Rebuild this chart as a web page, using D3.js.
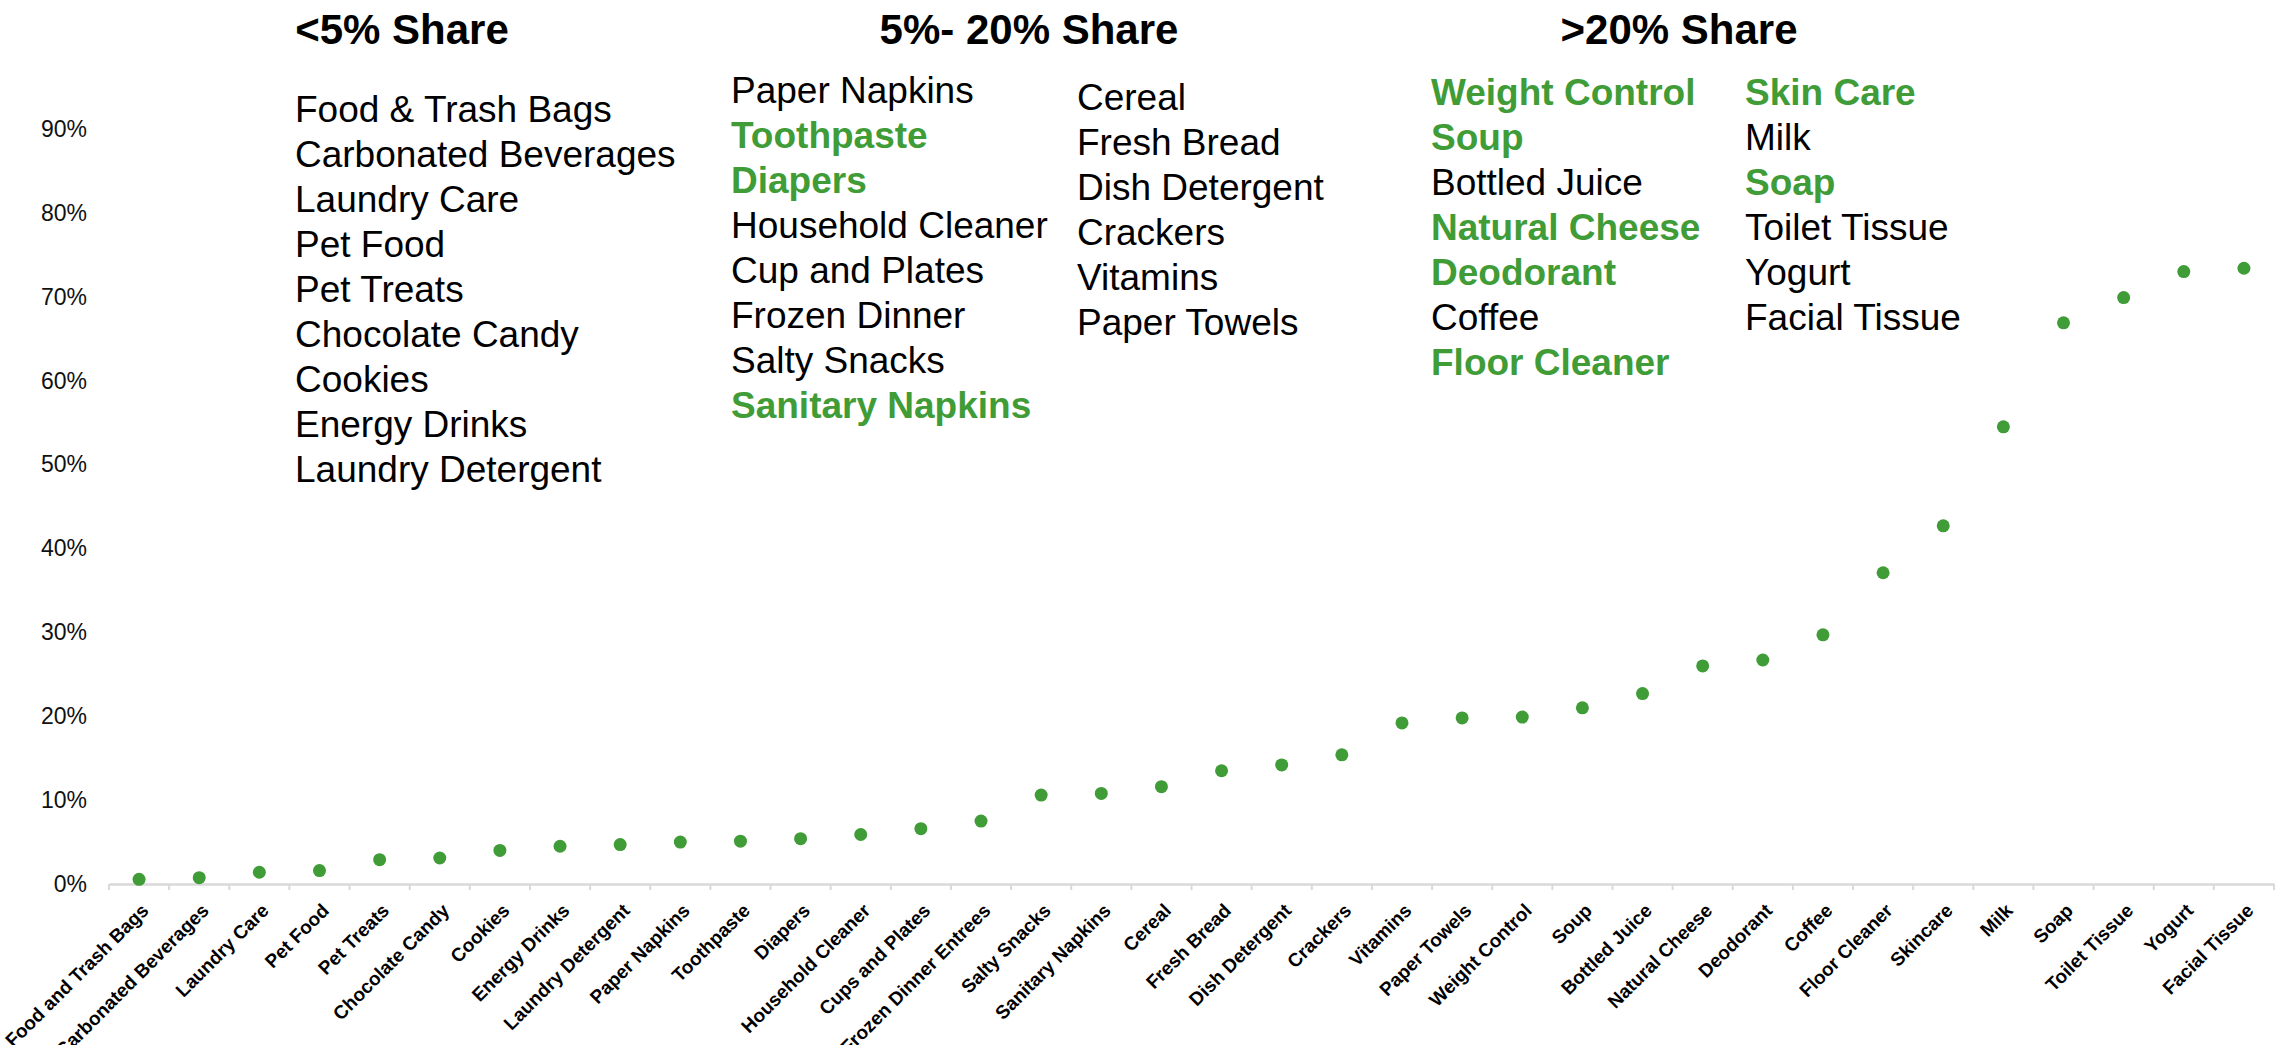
<!DOCTYPE html>
<html>
<head>
<meta charset="utf-8">
<script src="https://cdn.jsdelivr.net/npm/d3@7"></script>
<style>
  body { margin: 0; background: #fff; }
  svg { display: block; font-family: "Liberation Sans", Arial, sans-serif; }
</style>
</head>
<body>
<div id="chart"></div>
<script>
const categories = [
  'Food and Trash Bags', 'Carbonated Beverages', 'Laundry Care', 'Pet Food', 'Pet Treats',
  'Chocolate Candy', 'Cookies', 'Energy Drinks', 'Laundry Detergent', 'Paper Napkins',
  'Toothpaste', 'Diapers', 'Household Cleaner', 'Cups and Plates', 'Frozen Dinner Entrees',
  'Salty Snacks', 'Sanitary Napkins', 'Cereal', 'Fresh Bread', 'Dish Detergent',
  'Crackers', 'Vitamins', 'Paper Towels', 'Weight Control', 'Soup',
  'Bottled Juice', 'Natural Cheese', 'Deodorant', 'Coffee', 'Floor Cleaner',
  'Skincare', 'Milk', 'Soap', 'Toilet Tissue', 'Yogurt', 'Facial Tissue'
];

// share values (fraction)
const shares = [
  0.0056, 0.0075, 0.014, 0.016, 0.029,
  0.031, 0.040, 0.045, 0.047, 0.050,
  0.051, 0.054, 0.059, 0.066, 0.075,
  0.106, 0.108, 0.116, 0.135, 0.142,
  0.154, 0.192, 0.198, 0.199, 0.210,
  0.227, 0.260, 0.267, 0.297, 0.371,
  0.427, 0.545, 0.669, 0.699, 0.730, 0.734
];

const yTicks = [0, 0.1, 0.2, 0.3, 0.4, 0.5, 0.6, 0.7, 0.8, 0.9];

const groupTitles = ['<5% Share', '5%- 20% Share', '>20% Share'];

const lowShareList = ['Food & Trash Bags', 'Carbonated Beverages', 'Laundry Care', 'Pet Food',
  'Pet Treats', 'Chocolate Candy', 'Cookies', 'Energy Drinks', 'Laundry Detergent'];
const midShareListA = ['Paper Napkins', 'Toothpaste', 'Diapers', 'Household Cleaner',
  'Cup and Plates', 'Frozen Dinner', 'Salty Snacks', 'Sanitary Napkins'];
const midShareListB = ['Cereal', 'Fresh Bread', 'Dish Detergent', 'Crackers', 'Vitamins', 'Paper Towels'];
const highShareListA = ['Weight Control', 'Soup', 'Bottled Juice', 'Natural Cheese',
  'Deodorant', 'Coffee', 'Floor Cleaner'];
const highShareListB = ['Skin Care', 'Milk', 'Soap', 'Toilet Tissue', 'Yogurt', 'Facial Tissue'];

// names shown in green bold
const highlighted = ['Toothpaste', 'Diapers', 'Sanitary Napkins', 'Weight Control', 'Soup',
  'Natural Cheese', 'Deodorant', 'Floor Cleaner', 'Skin Care', 'Soap'];

const width = 2280;
const height = 1045;
const green = '#3f9c37';
const axisY = 884;

const svg = d3.select('#chart')
  .append('svg')
  .attr('width', width)
  .attr('height', height);

svg.append('rect').attr('width', width).attr('height', height).attr('fill', '#fff');

const xScale = d3.scaleBand()
  .domain(categories)
  .range([109, 2274])
  .padding(0);

const yScale = d3.scaleLinear()
  .domain([0, 0.9])
  .range([axisY, 129]);

// y axis (labels only)
const yAxis = svg.append('g')
  .attr('transform', 'translate(87,0)')
  .call(d3.axisLeft(yScale).tickValues(yTicks).tickFormat(d3.format('.0%')).tickSize(0).tickPadding(0));
yAxis.select('.domain').remove();
yAxis.selectAll('text')
  .attr('font-size', 23)
  .attr('font-family', '"Liberation Sans", Arial, sans-serif')
  .attr('fill', '#111');

// x axis
const xAxis = svg.append('g')
  .attr('transform', 'translate(0,' + axisY + ')')
  .call(d3.axisBottom(xScale).tickSize(0).tickSizeOuter(0));
xAxis.select('.domain')
  .attr('stroke', '#d9d9d9')
  .attr('stroke-width', 2.5);
xAxis.selectAll('text')
  .attr('y', 0)
  .attr('dy', '0.35em')
  .attr('transform', 'translate(6,23) rotate(-45)')
  .style('text-anchor', 'end')
  .attr('font-size', 19)
  .attr('font-weight', 'bold')
  .attr('font-family', '"Liberation Sans", Arial, sans-serif')
  .attr('fill', '#000');

// tick marks between categories
const boundaries = d3.range(categories.length + 1);
svg.append('g')
  .selectAll('line')
  .data(boundaries)
  .enter().append('line')
    .attr('x1', i => xScale.range()[0] + i * xScale.step())
    .attr('x2', i => xScale.range()[0] + i * xScale.step())
    .attr('y1', axisY)
    .attr('y2', axisY + 6)
    .attr('stroke', '#d9d9d9')
    .attr('stroke-width', 2);

// dots
svg.selectAll('.dot')
  .data(categories)
  .enter().append('circle')
    .attr('class', 'dot')
    .attr('cx', d => xScale(d) + xScale.bandwidth() / 2)
    .attr('cy', (d, i) => yScale(shares[i]))
    .attr('r', 6.5)
    .attr('fill', green);

// group titles
const titleX = [402, 1029, 1679];
svg.selectAll('.group-title')
  .data(groupTitles)
  .enter().append('text')
    .attr('class', 'group-title')
    .attr('x', (d, i) => titleX[i])
    .attr('y', 44)
    .attr('text-anchor', 'middle')
    .attr('font-size', 42)
    .attr('font-weight', 'bold')
    .attr('fill', '#000')
    .text(d => d);

// lists of categories under each title
function drawList(items, x, y0) {
  svg.append('g')
    .selectAll('text')
    .data(items)
    .enter().append('text')
      .attr('x', x)
      .attr('y', (d, i) => y0 + i * 45)
      .attr('font-size', 37)
      .attr('font-weight', d => highlighted.includes(d) ? 'bold' : 'normal')
      .attr('fill', d => highlighted.includes(d) ? green : '#000')
      .text(d => d);
}

drawList(lowShareList, 295, 122);
drawList(midShareListA, 731, 103);
drawList(midShareListB, 1077, 110);
drawList(highShareListA, 1431, 105);
drawList(highShareListB, 1745, 105);
</script>
</body>
</html>
